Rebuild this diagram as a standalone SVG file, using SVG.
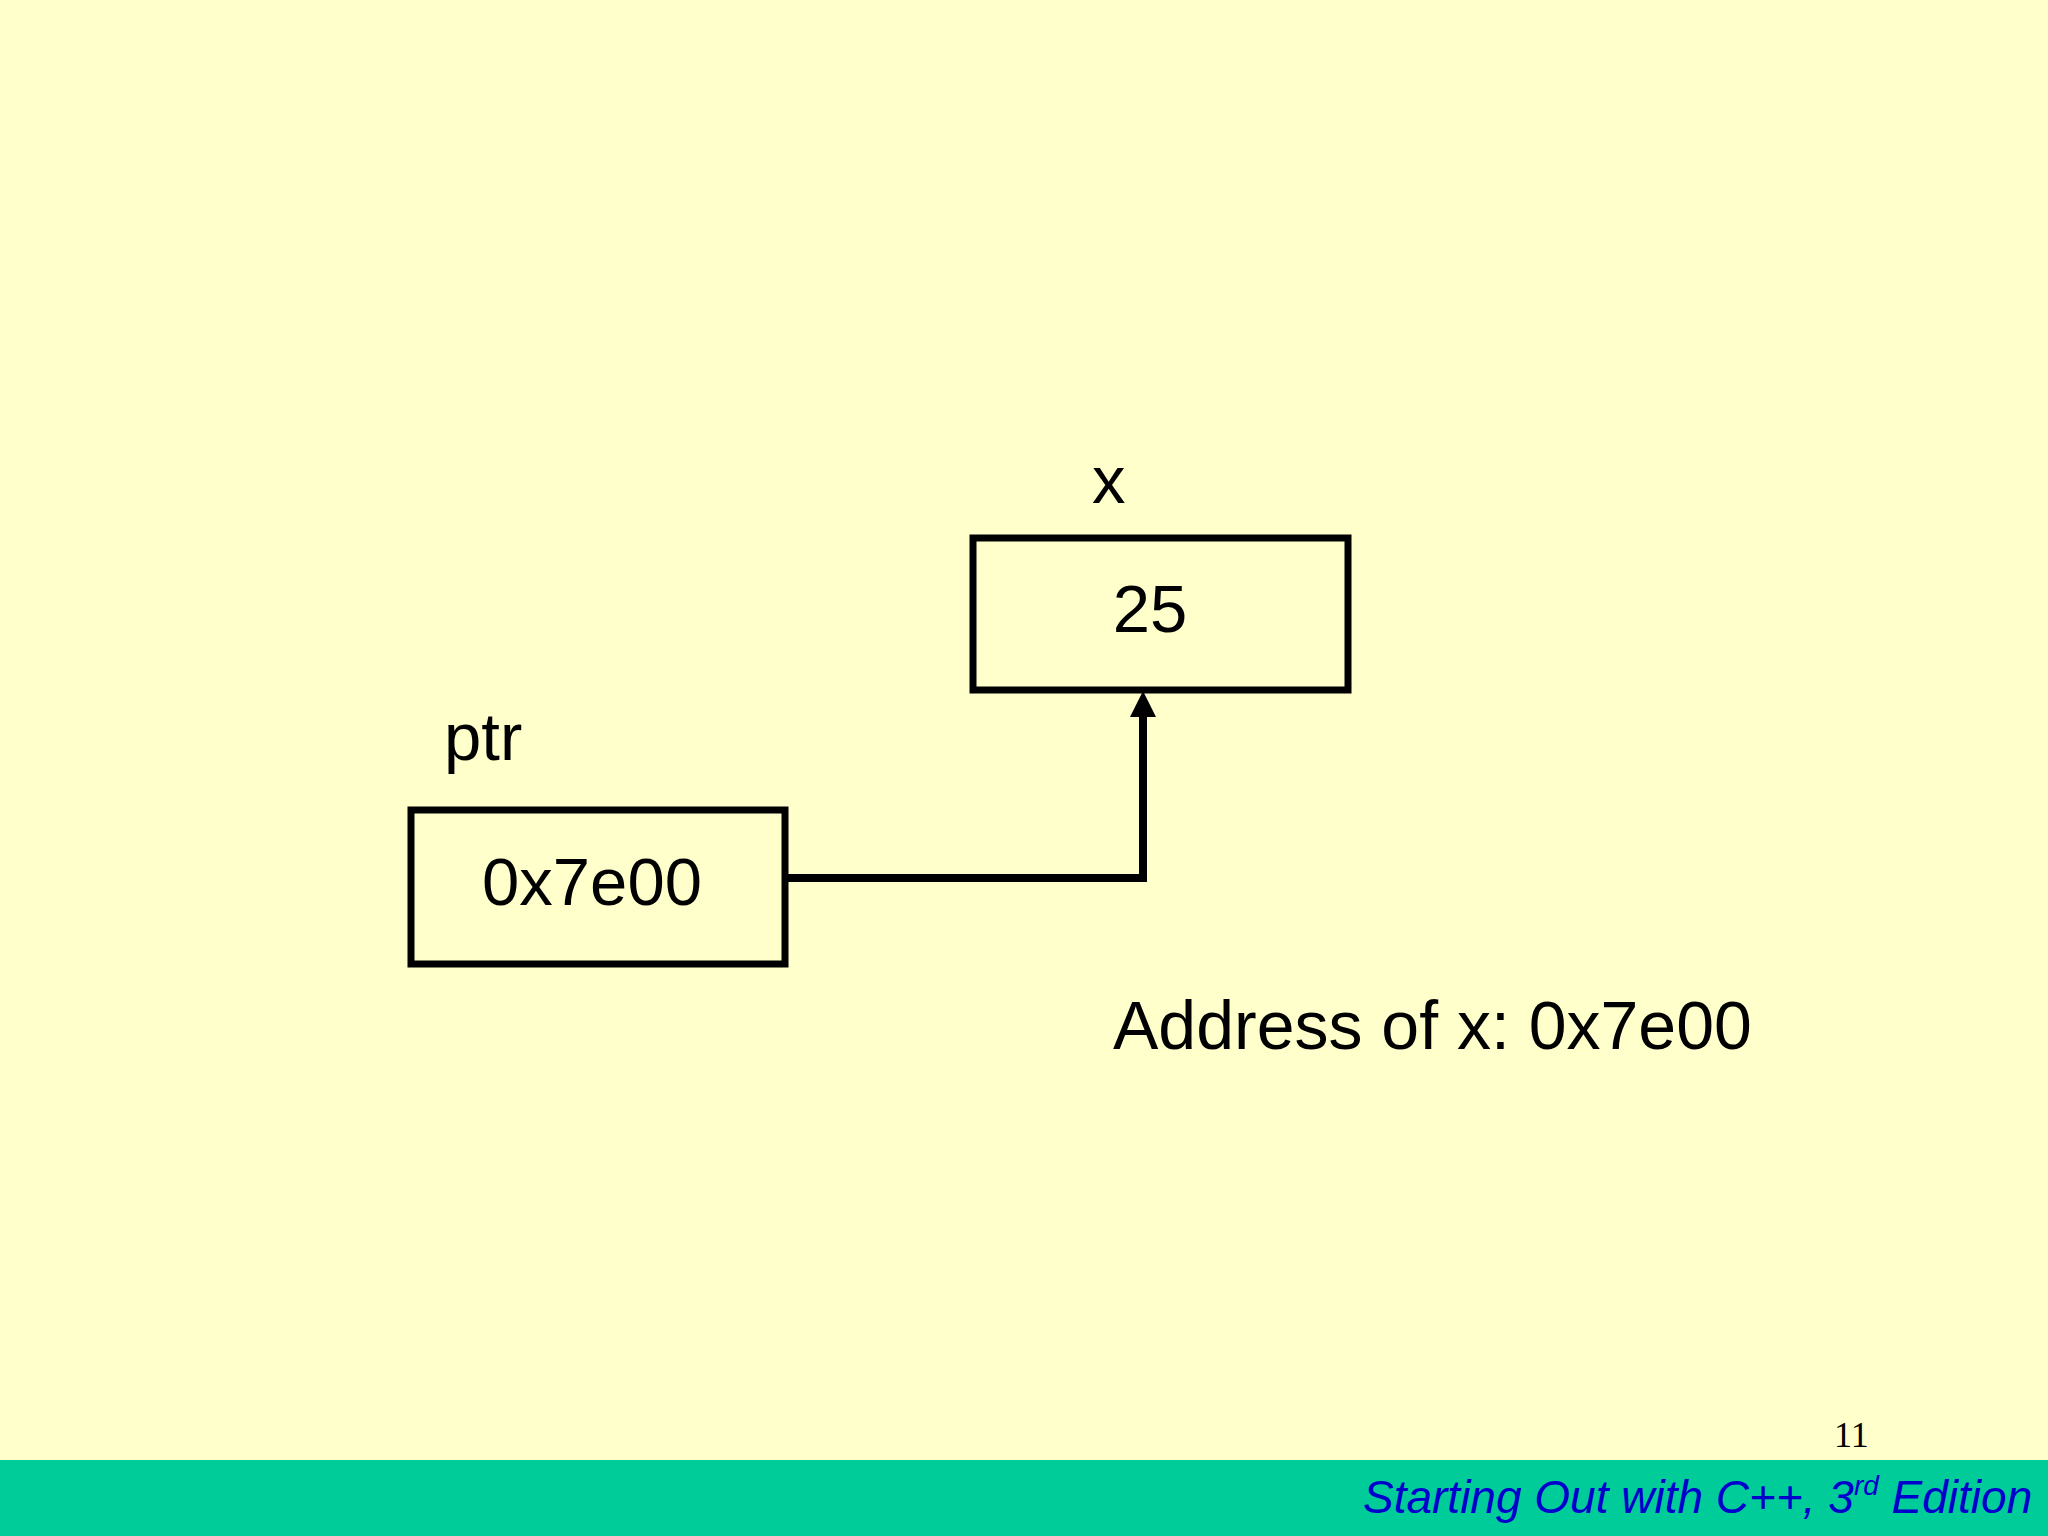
<svg xmlns="http://www.w3.org/2000/svg" width="2048" height="1536" viewBox="0 0 2048 1536">
<style>
.box{fill:none;stroke:#000;stroke-width:7}
.lbl{font-family:"Liberation Sans",Arial,sans-serif;font-size:67px;fill:#000}
.addr{font-size:68px}
.conn{fill:none;stroke:#000;stroke-width:8}
.foot{font-family:"Liberation Sans",Arial,sans-serif;font-size:46px;font-style:italic;fill:#0000CC}
.page{font-family:"Liberation Serif","Times New Roman",serif;font-size:36px;fill:#000}
</style>
<defs>
<marker id="arrow" markerUnits="userSpaceOnUse" markerWidth="26" markerHeight="26" viewBox="0 0 26 26" refX="12" refY="13" orient="auto">
<path d="M0,0 L26,13 L0,26 z" fill="#000"/>
</marker>
</defs>
<rect x="0" y="0" width="2048" height="1536" fill="#FFFFCC"/>
<rect x="0" y="1460" width="2048" height="76" fill="#00CC99"/>
<g id="node-x">
<text class="lbl" x="1092" y="503">x</text>
<rect class="box" x="973" y="538" width="375" height="152"/>
<text class="lbl" x="1150" y="632" text-anchor="middle">25</text>
</g>
<g id="node-ptr">
<text class="lbl" x="444" y="760">ptr</text>
<rect class="box" x="411" y="810" width="374" height="154"/>
<text class="lbl" x="592" y="905" text-anchor="middle">0x7e00</text>
</g>
<g id="connectors">
<path class="conn" d="M788,878 H1146"/>
<path class="conn" d="M1143,882 V705" marker-end="url(#arrow)"/>
</g>
<g id="note">
<text class="lbl addr" x="1113" y="1049">Address of x: 0x7e00</text>
</g>
<g id="footer">
<text class="page" x="1834" y="1447">11</text>
<text class="foot" x="1363" y="1513"><tspan>Starting Out with C++, 3</tspan><tspan font-size="28" dy="-18">rd</tspan><tspan dy="18"> Edition</tspan></text>
</g>
</svg>
